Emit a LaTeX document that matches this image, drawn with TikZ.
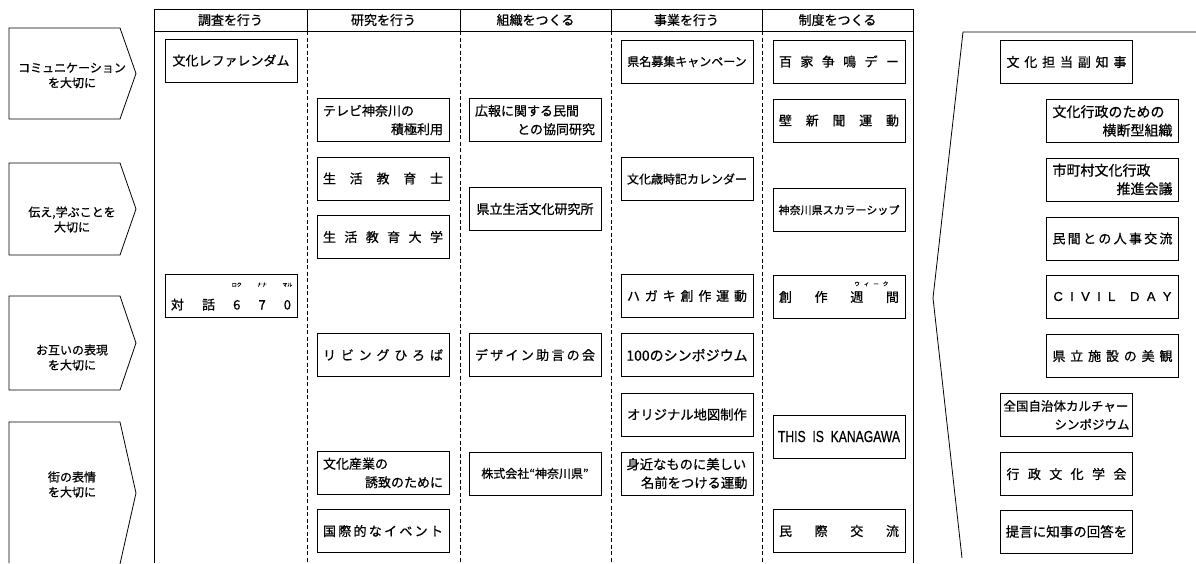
\documentclass[tikz,border=0pt]{standalone}
\usepackage{fontspec}
\usepackage{graphicx}
\setmainfont{Noto Sans CJK JP}[FakeBold=0.6]
\newfontfamily\latf{Liberation Sans}[FakeBold=0.6]
\newcommand\spr[1]{\hbox to 120pt{#1}}
\newcommand\rubyc[2]{\ooalign{\hfil#1\hfil\cr\hidewidth\raisebox{23pt}[0pt][0pt]{\fontsize{5}{5}\selectfont #2}\hidewidth\cr}}
\newcommand\rubyw{\rlap{\raisebox{16pt}[0pt][0pt]{\hspace{-9pt}\fontsize{5.5}{5.5}\selectfont\hbox to 34pt{ウ\hfill ィ\hfill ー\hfill ク}}}}
\tikzset{
  bx/.style={draw, line width=0.8pt, minimum width=132pt, minimum height=43pt, inner sep=0pt, font=\fontsize{13}{18.5}\selectfont},
  two/.style={bx, align=left, text width=120pt},
  hd/.style={inner sep=0pt, font=\fontsize{13}{13}\selectfont},
  arr/.style={draw, line width=0.8pt, line join=miter},
  atext/.style={inner sep=0pt, align=center, font=\fontsize{12}{15}\selectfont},
  frm/.style={line width=0.8pt},
  dsh/.style={line width=0.8pt, dash pattern=on 4pt off 2.5pt},
}
\begin{document}
\begin{tikzpicture}[x=1pt,y=-1pt]
\useasboundingbox[fill=white] (0,0) rectangle (1196,563);

% table frame
\draw[frm] (154,563) -- (154,9) -- (913,9) -- (913,563);
\draw[frm] (154,31) -- (913,31);
\foreach \x in {307,460,611,762} {
  \draw[frm] (\x,9) -- (\x,31);
  \draw[dsh] (\x,31) -- (\x,563);
}
\node[hd] (h1) at (230.5,20) {調査を行う};
\node[hd] (h2) at (383.5,20) {研究を行う};
\node[hd] (h3) at (535.5,20) {組織をつくる};
\node[hd] (h4) at (686.5,20) {事業を行う};
\node[hd] (h5) at (837.5,20) {制度をつくる};

% left arrows
\draw[arr] (9,28) -- (120,28) -- (136,73.5) -- (120,119) -- (9,119) -- cycle;
\draw[arr] (9,163) -- (120,163) -- (136,209) -- (120,255) -- (9,255) -- cycle;
\draw[arr] (9,296) -- (120,296) -- (136,343) -- (120,390) -- (9,390) -- cycle;
\draw[arr] (9,563) -- (9,422) -- (120,422) -- (136,493) -- (120,564);
\node[atext] (a1) at (72,75.5) {コミュニケーション\\を大切に};
\node[atext] (a2) at (72,219.5) {伝え,学ぶことを\\大切に};
\node[atext] (a3) at (72,357.5) {お互いの表現\\を大切に};
\node[atext] (a4) at (72,484.5) {街の表情\\を大切に};

% column 1
\node[bx] (c1a) at (231,60.5) {文化レファレンダム};
\node[bx, text height=28pt, text depth=0pt] (c1b) at (231,295.5) {\spr{対\hfill 話\hfill \rubyc{6}{ロク}\hfill \rubyc{7}{ナナ}\hfill \rubyc{0}{マル}}};

% column 2
\node[two] (t1) at (383,120) {テレビ神奈川の\\\hspace*{\fill}積極利用};
\node[bx] (t2) at (383,178.5) {\spr{生\hfill 活\hfill 教\hfill 育\hfill 士}};
\node[bx] (t3) at (383,237) {\spr{生\hfill 活\hfill 教\hfill 育\hfill 大\hfill 学}};
\node[bx] (t4) at (383,355) {\spr{リ\hfill ビ\hfill ン\hfill グ\hfill ひ\hfill ろ\hfill ば}};
\node[two] (t5) at (383,473) {文化産業の\\\hspace*{\fill}誘致のために};
\node[bx] (t6) at (383,531) {\spr{国\hfill 際\hfill 的\hfill な\hfill イ\hfill ベ\hfill ン\hfill ト}};

% column 3
\node[two] (o1) at (535,120) {広報に関する民間\\\hspace*{\fill}との協同研究};
\node[bx] (o2) at (535,209) {県立生活文化研究所};
\node[bx] (o3) at (535,355) {\spr{デ\hfill ザ\hfill イ\hfill ン\hfill 助\hfill 言\hfill の\hfill 会}};
\node[bx, font=\fontsize{12}{12}\selectfont] (o4) at (535,473.5) {株式会社“神奈川県”};

% column 4
\node[bx, font=\fontsize{12}{12}\selectfont] (j1) at (687,61.5) {県名募集キャンペーン};
\node[bx, font=\fontsize{12}{12}\selectfont] (j2) at (687,179) {文化歳時記カレンダー};
\node[bx] (j3) at (687,296) {\spr{ハ\hfill ガ\hfill キ\hfill 創\hfill 作\hfill 運\hfill 動}};
\node[bx, font=\fontsize{14}{14}\selectfont] (j4) at (687,355) {100のシンポジウム};
\node[bx, font=\fontsize{13.3}{13.3}\selectfont] (j5) at (687,414.5) {オリジナル地図制作};
\node[two, text width=121pt, font=\fontsize{13.3}{18.5}\selectfont] (j6) at (687,473.5) {身近なものに美しい\\\hspace*{\fill}名前をつける運動};

% column 5
\node[bx] (s1) at (839,61.5) {\spr{百\hfill 家\hfill 争\hfill 鳴\hfill デ\hfill ー}};
\node[bx] (s2) at (839,120.5) {\spr{壁\hfill 新\hfill 聞\hfill 運\hfill 動}};
\node[bx, font=\fontsize{11}{11}\selectfont] (s3) at (839,210) {神奈川県スカラーシップ};
\node[bx] (s4) at (839,297) {\spr{創\hfill 作\hfill 週\rubyw\hfill 間}};
\node[bx] (s5) at (839,436.5) {\scalebox{0.76}[1]{\latf\fontsize{16}{16}\selectfont THIS\ \ IS\ \ KANAGAWA}};
\node[bx] (s6) at (839,531) {\spr{民\hfill 際\hfill 交\hfill 流}};

% right panel
\draw[frm] (1196,32) -- (963,32) -- (933,298) -- (962,558);
\node[bx] (r1) at (1066.5,62) {\spr{文\hfill 化\hfill 担\hfill 当\hfill 副\hfill 知\hfill 事}};
\node[two, font=\fontsize{14}{18.5}\selectfont] (r2) at (1112.5,121) {文化行政のための\\\hspace*{\fill}横断型組織};
\node[two, font=\fontsize{14}{18.5}\selectfont] (r3) at (1112.5,179.5) {市町村文化行政\\\hspace*{\fill}推進会議};
\node[bx] (r4) at (1112.5,238.5) {\spr{民\hfill 間\hfill と\hfill の\hfill 人\hfill 事\hfill 交\hfill 流}};
\node[bx] (r5) at (1112.5,296.5) {\latf\fontsize{13}{13}\selectfont\hbox to 118pt{C\hfill I\hfill V\hfill I\hfill L\hfill\hfill D\hfill A\hfill Y}};
\node[bx] (r6) at (1112.5,356) {\spr{県\hfill 立\hfill 施\hfill 設\hfill の\hfill 美\hfill 観}};
\node[two, text width=126pt, font=\fontsize{12.5}{18.5}\selectfont] (r7) at (1066.5,415) {全国自治体カルチャー\\\hspace*{\fill}シンポジウム};
\node[bx] (r8) at (1066.5,474) {\spr{行\hfill 政\hfill 文\hfill 化\hfill 学\hfill 会}};
\node[bx, font=\fontsize{13.5}{13.5}\selectfont] (r9) at (1066.5,531.5) {提言に知事の回答を};
\end{tikzpicture}
\end{document}
